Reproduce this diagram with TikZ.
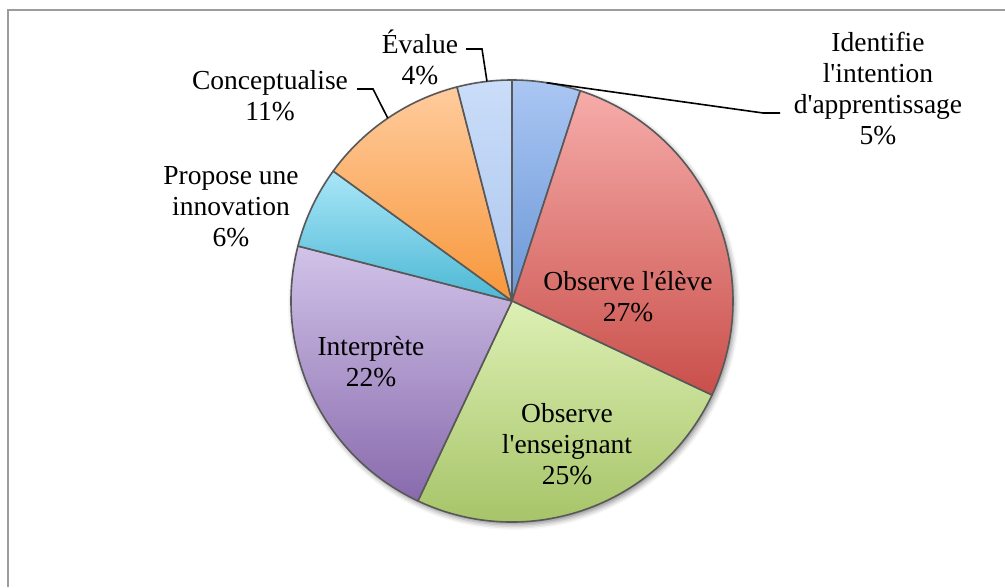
\documentclass[tikz,border=0pt]{standalone}
\usepackage{fontspec}
\setmainfont{Liberation Serif}[Ligatures=TeXOff]
\usetikzlibrary{shadows.blur,calc}

\definecolor{frameGray}{HTML}{9C9C9C}
\definecolor{sliceEdge}{HTML}{585858}
\definecolor{idTop}{HTML}{AAC6F3}
\definecolor{idBot}{HTML}{6B97D6}
\definecolor{elTop}{HTML}{F6ACAA}
\definecolor{elBot}{HTML}{C94F4A}
\definecolor{enTop}{HTML}{DDF0B4}
\definecolor{enBot}{HTML}{9FBE5E}
\definecolor{inTop}{HTML}{D1C3E9}
\definecolor{inBot}{HTML}{886AAC}
\definecolor{prTop}{HTML}{A9E6F8}
\definecolor{prBot}{HTML}{4CB8D4}
\definecolor{coTop}{HTML}{FFCB9D}
\definecolor{coBot}{HTML}{F7973A}
\definecolor{evTop}{HTML}{CADDF9}
\definecolor{evBot}{HTML}{ADC7EF}

% one pie sector: start angle, end angle, top colour, bottom colour
\newcommand\pieSector[4]{%
  \shadedraw[sector, top color=#3, bottom color=#4]
    (C) -- ++(#1:\pieR) arc[start angle=#1, end angle=#2, radius=\pieR] -- cycle;}

\begin{document}
\begin{tikzpicture}[x=1pt, y=1pt,
  sector/.style={draw=sliceEdge, line width=1.6pt, line join=round},
  lab/.style={align=center, inner sep=0pt, text=black,
              font=\fontsize{27.5}{31}\selectfont},
  leader/.style={draw=black, line width=1.6pt, line join=miter},
  frameline/.style={draw=frameGray, line width=2pt}]

\useasboundingbox (0,0) rectangle (1005,587);

% chart area border
\draw[frameline] (8,0) -- (8,577) -- (1005,577);

\coordinate (C) at (512,286);
\def\pieR{221}

% soft shadow under the pie
\fill[white, blur shadow={shadow xshift=2pt, shadow yshift=-3pt,
      shadow blur radius=5pt, shadow opacity=45}] (C) circle (\pieR);

% sectors, clockwise from the top
\pieSector{90}{72}{idTop}{idBot}
\pieSector{72}{-25.2}{elTop}{elBot}
\pieSector{-25.2}{-115.2}{enTop}{enBot}
\pieSector{-115.2}{-194.4}{inTop}{inBot}
\pieSector{-194.4}{-216}{prTop}{prBot}
\pieSector{-216}{-255.6}{coTop}{coBot}
\pieSector{-255.6}{-270}{evTop}{evBot}

% labels
\node[lab] (lId) at (878,498) {Identifie\\l'intention\\d'apprentissage\\5\%};
\node[lab] (lEv) at (420,530) {Évalue\\4\%};
\node[lab] (lCo) at (270,491) {Conceptualise\\11\%};
\node[lab] (lPr) at (231,380) {Propose une\\innovation\\6\%};
\node[lab] (lIn) at (371,225) {Interprète\\22\%};
\node[lab] (lEl) at (628,290) {Observe l'élève\\27\%};
\node[lab] (lEn) at (567,143) {Observe\\l'enseignant\\25\%};

% leader lines
\coordinate (eId) at ($(C)+(81:\pieR)$);
\coordinate (kId) at (763,474);
\coordinate (tId) at (780,474);
\draw[leader] (eId) -- (kId) -- (tId);

\coordinate (eEv) at ($(C)+(96.5:\pieR)$);
\coordinate (kEv) at (482,538);
\coordinate (tEv) at (466,538);
\draw[leader] (eEv) -- (kEv) -- (tEv);

\coordinate (eCo) at ($(C)+(124.2:\pieR)$);
\coordinate (kCo) at (373,498);
\coordinate (tCo) at (357,498);
\draw[leader] (eCo) -- (kCo) -- (tCo);

\end{tikzpicture}
\end{document}
